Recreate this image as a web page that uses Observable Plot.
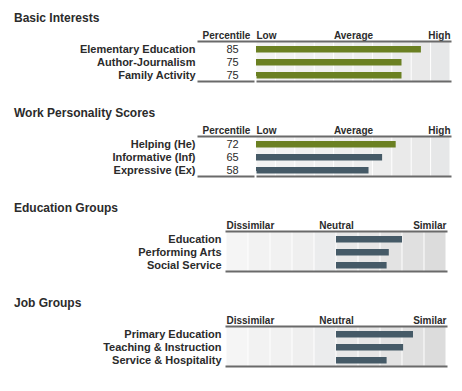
<!DOCTYPE html>
<html><head><meta charset="utf-8">
<script src="https://cdn.jsdelivr.net/npm/d3@7"></script>
<script src="https://cdn.jsdelivr.net/npm/@observablehq/plot@0.6"></script>
<style>
body{margin:0;background:#fff;font-family:"Liberation Sans",Arial,sans-serif;}
#root{position:relative;width:462px;height:391px;overflow:hidden;background:#fff;}
.sec{position:absolute;left:0;width:462px;height:95px;}
.title{position:absolute;left:14px;top:11px;font-weight:bold;font-size:12px;line-height:14px;color:#2b2b2b;white-space:nowrap;}
.sec svg{position:absolute;left:0;top:0;}
</style></head><body><div id="root"></div>
<script>
// ---- data ----
const basicTitle = "Basic Interests";
const basicLabels = ["Elementary Education", "Author-Journalism", "Family Activity"];
const basicValues = [85, 75, 75];
const basicHighlight = [true, true, true];

const workTitle = "Work Personality Scores";
const workLabels = ["Helping (He)", "Informative (Inf)", "Expressive (Ex)"];
const workValues = [72, 65, 58];
const workHighlight = [true, false, false];

const eduTitle = "Education Groups";
const eduLabels = ["Education", "Performing Arts", "Social Service"];
const eduValues = [3.0, 2.4, 2.3];

const jobTitle = "Job Groups";
const jobLabels = ["Primary Education", "Teaching & Instruction", "Service & Hospitality"];
const jobValues = [3.5, 3.05, 2.3];

const pctHeader = "Percentile";
const pctTicks = [0, 50, 100];
const pctTickLabels = ["Low", "Average", "High"];
const simTicks = [-5, 0, 5];
const simTickLabels = ["Dissimilar", "Neutral", "Similar"];

// ---- style ----
const GREEN = "#6b8022";
const SLATE = "#455a67";
const LINE = "#6a6a6a";
const TEXT = "#2b2b2b";
const pctColFill = ["#f3f3f3","#f2f2f2","#f0f0f0","#f0f0f0","#eeeeee","#eeeeee","#ededed","#eaeaea","#e9e9e9","#e6e7e8"];
const simColFill = ["#f5f5f5","#f2f2f2","#f1f1f1","#efefef","#ebeced","#e8e8e8","#e6e6e6","#e3e3e3","#e0e0e0","#dcdcdc"];
const anchors = ["start", "middle", "end"];
const font = "'Liberation Sans', Arial, Helvetica, sans-serif";

const root = document.getElementById("root");

function section(top, title, svg) {
  const div = document.createElement("div");
  div.className = "sec";
  div.style.top = top + "px";
  div.appendChild(svg);
  const t = document.createElement("div");
  t.className = "title";
  t.textContent = title;
  div.appendChild(t);
  root.appendChild(div);
}

function headerMarks(ticks, labels) {
  return ticks.map((v, i) => Plot.text([labels[i]], {
    x: () => v, text: d => d, frameAnchor: "top", lineAnchor: "bottom", dy: -3,
    textAnchor: anchors[i], fontWeight: "bold", fontSize: 10, fill: TEXT
  }));
}

function percentilePlot(labels, values, highlight) {
  const data = labels.map((l, i) => ({label: l, value: values[i], fill: highlight[i] ? GREEN : SLATE}));
  const cols = pctColFill.map((c, i) => ({x1: i * 10, x2: i * 10 + 10, fill: c}));
  return Plot.plot({
    width: 462, height: 95,
    marginLeft: 198, marginRight: 12, marginTop: 41, marginBottom: 14,
    x: {domain: [0, 100], range: [256, 450], axis: null},
    y: {domain: labels, padding: 0, axis: null},
    color: {type: "identity"},
    style: {fontFamily: font, color: TEXT, background: "white", overflow: "visible"},
    marks: [
      Plot.rect(cols, {x1: "x1", x2: "x2", fill: "fill", insetLeft: 0.5, insetRight: 0.5}),
      Plot.barX(data, {x: "value", y: "label", fill: "fill", insetTop: 4, insetBottom: 2.5}),
      Plot.axisY({tickSize: 0, tickPadding: 3, fontWeight: "bold", fontSize: 11, fill: TEXT, label: null}),
      Plot.text(data, {y: "label", text: d => String(d.value), frameAnchor: "left", dx: 28, fontSize: 11, fill: TEXT}),
      Plot.text([pctHeader], {text: d => d, frameAnchor: "top-left", dx: 28, dy: -3, lineAnchor: "bottom", textAnchor: "middle", fontWeight: "bold", fontSize: 10, fill: TEXT}),
      ...headerMarks(pctTicks, pctTickLabels),
      Plot.frame({anchor: "top", stroke: LINE, strokeWidth: 2}),
      Plot.frame({anchor: "bottom", stroke: LINE, strokeWidth: 2}),
      Plot.ruleX([0], {stroke: "white", strokeWidth: 2, dx: -1, insetTop: 35, insetBottom: -2})
    ]
  });
}

function similarityPlot(labels, values) {
  const data = labels.map((l, i) => ({label: l, value: values[i]}));
  const cols = simColFill.map((c, i) => ({x1: -5 + i, x2: -4 + i, fill: c}));
  return Plot.plot({
    width: 462, height: 95,
    marginLeft: 226, marginRight: 16, marginTop: 41, marginBottom: 14,
    x: {domain: [-5, 5], axis: null},
    y: {domain: labels, padding: 0, axis: null},
    color: {type: "identity"},
    style: {fontFamily: font, color: TEXT, background: "white", overflow: "visible"},
    marks: [
      Plot.rect(cols, {x1: "x1", x2: "x2", fill: "fill", insetLeft: 0.5, insetRight: 0.5}),
      Plot.barX(data, {x: "value", y: "label", fill: SLATE, insetTop: 4, insetBottom: 2.5}),
      Plot.axisY({tickSize: 0, tickPadding: 5, fontWeight: "bold", fontSize: 11, fill: TEXT, label: null}),
      ...headerMarks(simTicks, simTickLabels),
      Plot.frame({anchor: "top", stroke: LINE, strokeWidth: 2}),
      Plot.frame({anchor: "bottom", stroke: LINE, strokeWidth: 2})
    ]
  });
}

section(0, basicTitle, percentilePlot(basicLabels, basicValues, basicHighlight));
section(95, workTitle, percentilePlot(workLabels, workValues, workHighlight));
section(190, eduTitle, similarityPlot(eduLabels, eduValues));
section(285, jobTitle, similarityPlot(jobLabels, jobValues));
</script>
</body></html>
